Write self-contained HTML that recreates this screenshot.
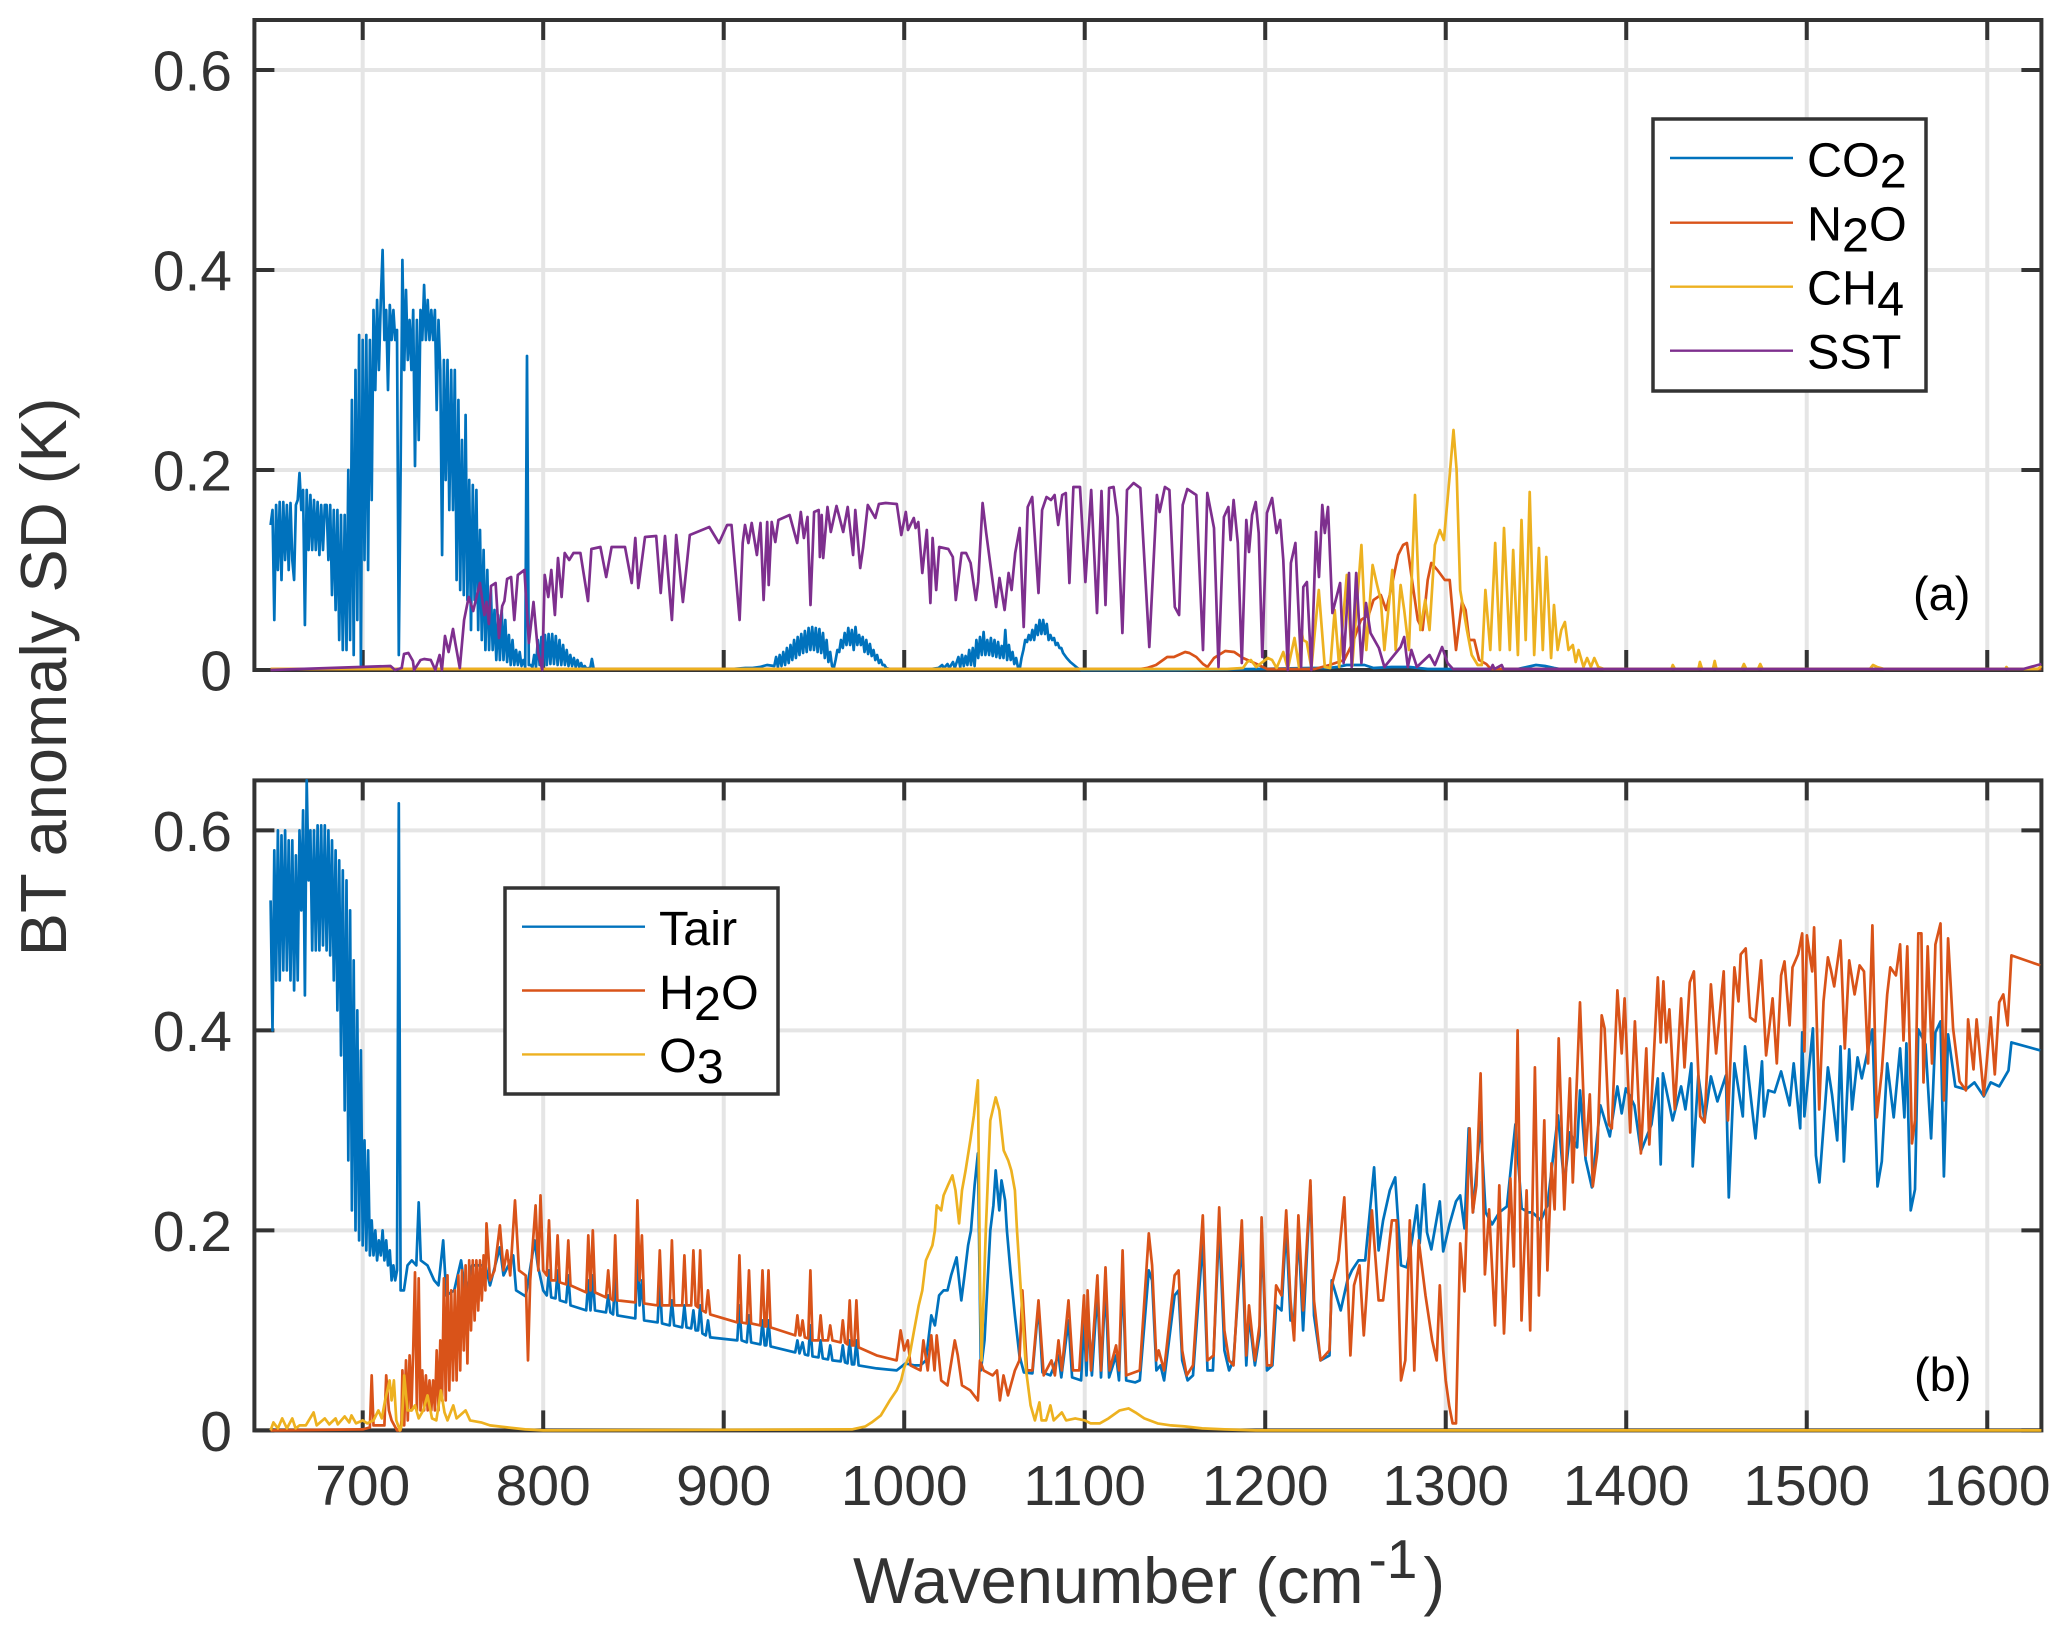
<!DOCTYPE html>
<html lang="en">
<head>
<meta charset="utf-8">
<title>BT anomaly SD spectra</title>
<style>
html,body{margin:0;padding:0;background:#fff}
svg{display:block}
text{font-family:"Liberation Sans",sans-serif}
</style>
</head>
<body>
<svg id="chart" xmlns="http://www.w3.org/2000/svg" width="2067" height="1635" viewBox="0 0 2067 1635">
<rect x="0" y="0" width="2067" height="1635" fill="#fff"/>
<g id="panels"></g>
<text transform="translate(66,677) rotate(-90)" text-anchor="middle" font-size="65" fill="#333">BT anomaly SD (K)</text>
<text x="853" y="1603" font-size="65" fill="#333">Wavenumber (cm<tspan font-size="55" dx="5" dy="-25">-1</tspan><tspan dx="6" dy="25">)</tspan></text>
<text x="1913" y="610" font-size="47" fill="#000">(a)</text>
<text x="1914" y="1391" font-size="47" fill="#000">(b)</text>
<g font-size="48.5" fill="#000">
<rect x="1653" y="119" width="273" height="272" fill="#fff" stroke="#333" stroke-width="3.5"/>
<line x1="1670" x2="1793" y1="158" y2="158" stroke="#0072bd" stroke-width="2.4"/>
<line x1="1670" x2="1793" y1="222.7" y2="222.7" stroke="#d95319" stroke-width="2.4"/>
<line x1="1670" x2="1793" y1="286.7" y2="286.7" stroke="#edb120" stroke-width="2.4"/>
<line x1="1670" x2="1793" y1="350.7" y2="350.7" stroke="#7e2f8e" stroke-width="2.4"/>
<text x="1807" y="176.7">CO<tspan dy="11">2</tspan></text>
<text x="1807" y="240.7">N<tspan dy="11">2</tspan><tspan dy="-11">O</tspan></text>
<text x="1807" y="304.5">CH<tspan dy="11">4</tspan></text>
<text x="1807" y="368.3">SST</text>
</g>
<g font-size="48.5" fill="#000">
<rect x="505" y="888" width="273" height="206" fill="#fff" stroke="#333" stroke-width="3.5"/>
<line x1="522" x2="645" y1="926.7" y2="926.7" stroke="#0072bd" stroke-width="2.4"/>
<line x1="522" x2="645" y1="990.5" y2="990.5" stroke="#d95319" stroke-width="2.4"/>
<line x1="522" x2="645" y1="1054.4" y2="1054.4" stroke="#edb120" stroke-width="2.4"/>
<text x="659" y="945">Tair</text>
<text x="659" y="1008.8">H<tspan dy="11">2</tspan><tspan dy="-11">O</tspan></text>
<text x="659" y="1072">O<tspan dy="11">3</tspan></text>
</g>
</svg>
<script>
const xTickValues=[700,800,900,1000,1100,1200,1300,1400,1500,1600];
const xTickLabels=["700","800","900","1000","1100","1200","1300","1400","1500","1600"];
const yTickValues=[0,0.2,0.4,0.6];
const yTickLabels=["0","0.2","0.4","0.6"];

// Panel (a): CO2 — densely sampled band (one value per cm-1, starting at co2BandStart) plus a sparse tail
const co2BandStart=649;
const co2BandSd=[
.145,.16,.05,.165,.1,.168,.09,.168,.11,.165,
.1,.167,.11,.09,.165,.17,.197,.16,.18,.045,
.18,.12,.175,.12,.17,.12,.168,.115,.165,.12,
.165,.165,.11,.165,.075,.16,.06,.16,.03,.155,
.02,.155,.02,.2,.03,.27,.015,.3,.05,.335,
.005,.33,.11,.335,.1,.33,.17,.36,.28,.37,
.3,.37,.42,.33,.36,.28,.365,.33,.36,.33,
.34,.015,.2,.41,.3,.38,.31,.35,.3,.36,
.204,.35,.23,.36,.33,.385,.33,.37,.33,.36,
.33,.36,.26,.35,.3,.115,.31,.19,.31,.16,
.3,.16,.3,.09,.27,.08,.23,.075,.255,.07,
.19,.04,.185,.07,.18,.04,.14,.03,.12,.02,
.1,.02,.08,.02,.06,.01,.055,.01,.06,.01,
.05,.008,.035,.005,.03,.005,.02,.005,.018,.004,
.01,.003,.314,.005,.005,.003,.015,.003,.03,.005,
.033,.004,.035,.005,.036,.006,.036,.006,.034,.005,
.03,.005,.025,.005,.02,.004,.015,.004,.012,.003,
.01,.003,.007,.002,.004,.001,.002,.001,.011,.001
];
const co2TailWn=[
830,905,912,916,920,924,928,929,930,931,
932,933,934,935,936,937,938,939,940,941,
942,943,944,945,946,947,948,949,950,951,
952,953,954,955,956,957,958,959,960,961,
962,963,964,965,966,967,968,969,970,971,
972,973,974,975,976,977,978,979,980,981,
982,983,984,985,986,987,988,989,990,992,
1015,1019,1021,1022,1024,1025,1027,1028,1030,1031,
1032,1033,1034,1035,1036,1037,1038,1039,1040,1041,
1042,1043,1044,1045,1046,1047,1048,1049,1050,1051,
1052,1053,1054,1055,1056,1057,1058,1059,1060,1061,
1062,1063,1064,1065,1066,1067,1068,1069,1070,1071,
1072,1073,1074,1075,1076,1077,1078,1079,1080,1081,
1082,1083,1084,1085,1086,1087,1088,1090,1092,1094,
1096,1098,1150,1195,1225,1235,1240,1245,1250,1255,
1260,1270,1280,1290,1340,1345,1350,1355,1360,1363,
1380,1630
];
const co2TailSd=[
.001,.001,.002,.002,.003,.005,.004,.013,.003,.015,
.004,.018,.005,.022,.007,.025,.01,.03,.012,.033,
.015,.036,.017,.039,.018,.042,.02,.043,.02,.042,
.018,.041,.017,.037,.012,.03,.008,.018,.004,.002,
.01,.02,.018,.03,.022,.037,.025,.042,.025,.04,
.02,.043,.025,.035,.025,.033,.018,.03,.016,.026,
.014,.02,.01,.015,.007,.01,.005,.005,.002,.001,
.001,.002,.005,.002,.006,.002,.008,.002,.013,.003,
.015,.004,.014,.005,.02,.005,.022,.004,.03,.012,
.033,.015,.038,.015,.03,.015,.032,.014,.03,.013,
.028,.012,.024,.012,.04,.01,.025,.01,.018,.006,
.012,.003,.001,.012,.02,.03,.028,.035,.03,.04,
.03,.045,.035,.05,.036,.05,.036,.046,.03,.035,
.03,.032,.025,.027,.022,.022,.017,.012,.008,.005,
.002,0,0,.001,.002,.002,.003,.005,.005,.005,
.002,.003,.003,.001,.001,.003,.005,.004,.002,.001,
.001,.001
];

// Panel (a): N2O
const n2oWn=[
649,1130.8,1134.5,1139.5,1145.7,1149.4,1155.6,1158,1161.8,1165.5,
1168,1171.6,1177.8,1182.8,1187.7,1195.2,1201,1227.4,1235.6,1243.8,
1246.5,1249,1253,1257.3,1260,1264,1267,1269.6,1273.6,1276.4,
1278.5,1281.3,1284.5,1287.2,1290,1292,1295.4,1299.5,1302.2,1305.7,
1309,1311,1313,1315.8,1318.5,1322.5,1325,1630
];
const n2oSd=[
.001,.001,.002,.005,.013,.013,.018,.017,.013,.006,
.003,.012,.019,.018,.012,.006,.001,.001,.005,.01,
.02,.03,.05,.055,.07,.075,.06,.08,.115,.125,
.127,.09,.05,.04,.09,.107,.1,.09,.09,.02,
.068,.06,.03,.03,.01,.006,.001,.001
];

// Panel (a): CH4
const ch4Wn=[
649,1179,1187.7,1190,1192,1195,1201.4,1203.8,1206.3,1210,
1212.5,1216.2,1218.7,1220,1221,1223,1225.6,1229.7,1233,1236,
1238.5,1241,1245.2,1248.2,1253.3,1256,1259.5,1262,1264,1266,
1270.4,1272.3,1275,1277,1279.6,1283,1285.9,1288.6,1291,1294,
1296.7,1299,1301,1302,1304.3,1306,1308,1311.7,1314.4,1317.7,
1320,1322,1324.7,1327.4,1330,1332.3,1335.5,1337.4,1340,1342,
1344.3,1346.5,1349,1351.6,1353.8,1355.7,1358.4,1360,1362,1364,
1366,1368,1370.4,1372,1373.6,1376.3,1378.3,1380.4,1382.3,1384.5,
1387.8,1425,1425.8,1427,1440,1440.8,1442,1448,1449,1450,
1464,1465.2,1466.5,1473,1474.2,1475.5,1535,1536.7,1539,1541,
1543,1610,1610.6,1611.5,1628,1630
];
const ch4Sd=[
.001,.001,.002,.008,.01,.003,.012,.01,.002,.018,
.001,.032,.003,.04,.03,.028,.002,.08,.003,.002,
.06,.003,.095,.004,.125,.02,.105,.085,.07,.02,
.1,.02,.085,.06,.02,.175,.04,.07,.04,.125,
.14,.13,.17,.19,.24,.2,.08,.04,.015,.005,
.005,.08,.02,.127,.02,.142,.02,.12,.015,.15,
.03,.178,.015,.122,.02,.113,.012,.065,.02,.04,
.048,.02,.025,.008,.02,.003,.012,.003,.012,.003,
.001,.001,.005,.001,.001,.008,.001,.001,.009,.001,
.001,.006,.001,.001,.006,.001,.001,.005,.003,.002,
.001,.001,.003,.001,.001,.004
];

// Panel (a): SST
const sstWn=[
649,715.4,717.9,721.6,722.9,725.3,727.8,728.5,732,734,
737.7,740.2,742.6,743.9,745.6,747.6,750,751.3,753.8,756.2,
758.7,761.2,764.9,767.4,768.6,769.9,771.1,773.6,775.5,777.3,
778.5,780,782.2,784,785.9,789.6,792.1,794.6,797.1,799.5,
800.8,802.8,804.5,806.5,808.2,810.2,811.9,814.4,816.8,820.6,
824.8,826.7,831.7,834.9,837.9,841.6,845.3,849,851,852.7,
856.4,862.6,865.1,867.5,871.3,873.7,877.4,881.2,892,897.4,
901.9,904.3,906.3,908.8,910.5,911.8,913.7,915.5,918.4,920.4,
922.1,924.1,924.9,926.6,928.6,930.3,934,936.5,940.7,942.7,
944.4,946.4,948.1,950.1,952.6,953.3,954.3,955.1,957.5,959.3,
962.5,966.2,968.7,971.7,972.9,975.6,977.3,979.8,984,986,
989.7,995.9,998.4,1000.9,1002.1,1005.3,1006.3,1007.8,1010,1012.5,
1014.5,1015.7,1017.7,1019.4,1024.4,1026.9,1028.6,1031.8,1034.3,1036.8,
1039.7,1041,1043.4,1045.4,1047.9,1050.9,1052.8,1055.6,1057.8,1059.5,
1061.5,1064,1066.2,1068.4,1070.9,1074.4,1076.4,1078.8,1081.3,1083.3,
1085.3,1087.5,1089.5,1091.5,1093.7,1097.4,1100.4,1103.6,1106.8,1109.3,
1111.5,1113.5,1116,1118.2,1120.9,1123.4,1127.1,1130.8,1135.8,1140,
1141.5,1144.4,1146.9,1149.9,1152.3,1154.3,1156.8,1161.8,1165.5,1167.9,
1171.6,1174.1,1177.1,1179.6,1180.8,1182.5,1184.8,1187,1189.5,1191,
1192.7,1194.7,1196.4,1198.4,1200.9,1203.8,1206.3,1208.3,1210,1212.5,
1214.2,1216.7,1219.9,1221.1,1223.1,1225.6,1228.1,1229.8,1231.6,1233,
1234.8,1237.2,1241.5,1243.4,1246.4,1247.9,1250.4,1253.3,1255.8,1258.3,
1263,1266,1275,1277,1279,1281,1284,1291,1294,1298,
1301,1304,1325,1326,1327,1331,1332,1620,1630
];
const sstSd=[
0,.004,0,.002,.016,.017,.009,0,.01,.011,
.01,0,.015,0,.034,.018,.041,.027,.002,.05,
.073,.059,.087,.055,.068,.046,.084,.087,.032,.064,
.069,.091,.093,.05,.095,.1,.027,.068,.018,0,
.095,.073,.1,.055,.112,.073,.117,.11,.117,.117,
.069,.121,.123,.093,.123,.123,.123,.087,.132,.082,
.133,.134,.077,.134,.05,.135,.068,.135,.143,.127,
.145,.145,.103,.05,.127,.145,.127,.147,.115,.147,
.07,.148,.085,.148,.128,.15,.153,.155,.127,.158,
.132,.153,.065,.158,.16,.113,.155,.112,.163,.138,
.164,.138,.163,.115,.16,.102,.123,.165,.152,.166,
.167,.166,.135,.158,.14,.152,.142,.148,.097,.14,
.067,.132,.08,.123,.121,.113,.07,.117,.117,.107,
.07,.088,.167,.137,.103,.063,.092,.06,.097,.08,
.117,.142,.043,.163,.173,.077,.16,.173,.17,.175,
.145,.175,.177,.087,.183,.183,.088,.18,.057,.179,
.065,.182,.183,.153,.037,.18,.187,.182,.023,.175,
.158,.183,.18,.063,.055,.165,.181,.175,.02,.177,
.142,.003,.153,.163,.13,.17,.127,.007,.15,.118,
.155,.168,.137,.013,.157,.172,.137,.15,.11,0,
.107,.127,.003,.083,.088,0,.138,.093,.165,.137,
.163,.057,.087,.007,.097,.003,.097,.007,.067,.037,
.022,.003,.023,.033,.003,.02,.003,.015,.005,.023,
.007,.001,.001,.005,.001,.005,.001,.001,.006
];

// Panel (b): Tair — dense band plus sparse remainder
const tairBandStart=649;
const tairBandSd=[
.53,.4,.58,.45,.6,.45,.595,.46,.6,.46,
.59,.45,.59,.44,.575,.45,.6,.52,.62,.435,
.65,.55,.6,.48,.6,.48,.605,.48,.605,.485,
.605,.48,.6,.475,.59,.45,.58,.42,.57,.375,
.56,.32,.55,.27,.52,.22,.47,.2,.42,.19,
.38,.185,.29,.18,.28,.175,.21,.175,.2,.17,
.19,.175,.2,.17,.19,.165,.18,.15,.165,.15,
.16,.627,.14
];
const tairWn=[
722.8,724.8,727.2,729.7,731,732.2,735.9,739.6,742,744.6,
746.3,750.7,754.5,757,760.6,768,770.5,776,778,783.4,
785,790.3,795.3,797,
800,802,803.2,804.4,806.8,808,809.2,812.7,813.9,815.1,
823.8,825,826.2,827.5,828.7,834.8,836,837.2,838.7,839.9,
841.1,851,852.2,853.4,854.7,855.9,863.4,864.6,865.8,870.1,
871.3,872.5,877,878.2,879.4,882,883.2,884.4,885.8,887,
888.2,890.1,891.3,892.5,907.5,908.7,909.9,912.8,914,915.2,
920.3,921.5,922.7,923.6,924.8,926,939.6,940.8,942,943.7,
944.9,946.8,948,949.2,952.5,953.7,954.9,957.8,959,960.2,
964.8,966,967.2,968.6,969.8,971,972.3,973.5,974.7,984.7,
995.8,1000.7,
1005.7,1009,1012,1015,1017,1019.3,
1021.8,1024,1026,1029,1031.6,1033.4,1035.4,1037,1039,1040.8,
1042.5,1044.5,1046.5,1047.7,1049.4,1050.7,1052.7,1053.9,1055.9,1056.9,
1058.8,1061.3,1063.8,1066.3,1071,1074.4,1076.6,1081,1085.5,1087,
1091,1093,1098,1099.6,1101,1102,1104,1107,1109,1111.5,
1113.5,1117.4,1119,1121,1123,1128,1130.5,1135.5,1137.3,1139.7,
1142,1144,1149.8,1152,1154,1157,1160,1165.4,1168,1171,
1174.5,1177.4,1180,1182.4,1187,1189.5,1191,1194.3,1196.8,1198,
1201,1204,1206,1209,1211.6,1214,1216,1218.4,1221,1225,
1227,1230.6,1235.6,1236.8,1241.8,1245.5,1248,1251.7,1255.4,1260.3,
1262.8,1265.3,1269,1272,1275.2,1278.4,1281.3,1284,1285.6,1288,
1289.6,1292,1296.7,1298.6,1302.1,1305.7,1308,1310.4,1312.7,1315.1,
1319.3,1322.1,1325.7,1329.7,1333.9,1338.6,1342.1,1345.7,1348,1352.7,
1356.3,1362.2,1365.7,1368.8,1372.8,1374.4,1377.5,1381,1385.7,1390.9,
1395.1,1397.5,1399.8,1404.5,1408.1,1414,1417.5,1419.1,1420.3,1425.7,
1430.4,1432.8,1436.1,1436.8,1439.9,1443.4,1446.9,1450.5,1455.2,1456.8,
1459.9,1464.6,1465.8,1471.6,1475.2,1476.4,1478.7,1482.2,1485.8,1490.5,
1492.8,1496.4,1497.5,1498.7,1503.4,1505.1,1507,1511.7,1514,1516.9,
1518.7,1520.6,1523.5,1525.1,1528.2,1530.5,1536.4,1539.2,1541.6,1544.6,
1548.2,1551.7,1554.1,1555.2,1557.6,1560,1561.8,1565.8,1568.9,1571.3,
1574.1,1576,1578.3,1582.3,1588.2,1592.9,1598.1,1601.9,1606.6,1611.8,
1613.4,1629.4
];
const tairSd=[
.14,.165,.17,.165,.228,.17,.165,.15,.145,.19,
.135,.14,.17,.135,.165,.165,.145,.183,.155,.175,
.14,.134,.19,.165,
.14,.135,.16,.133,.132,.16,.13,.128,.155,.125,
.12,.15,.12,.155,.12,.118,.135,.118,.116,.155,
.115,.112,.18,.125,.15,.11,.108,.15,.107,.105,
.13,.105,.103,.125,.103,.102,.12,.1,.1,.125,
.097,.095,.11,.093,.09,.125,.09,.088,.115,.088,
.086,.11,.085,.085,.11,.084,.078,.09,.077,.088,
.076,.075,.105,.074,.073,.09,.072,.071,.085,.07,
.069,.085,.068,.067,.09,.066,.066,.09,.065,.062,
.06,.067,
.065,.065,.07,.115,.105,.135,
.14,.14,.155,.173,.13,.155,.185,.2,.245,.277,
.06,.09,.16,.2,.225,.26,.22,.25,.23,.2,
.16,.115,.075,.058,.057,.125,.058,.055,.075,.053,
.11,.053,.05,.11,.055,.115,.055,.14,.053,.145,
.053,.075,.05,.155,.05,.048,.05,.16,.15,.06,
.065,.05,.135,.14,.07,.05,.055,.19,.06,.06,
.205,.08,.06,.07,.19,.065,.115,.065,.095,.2,
.06,.065,.125,.12,.205,.11,.11,.2,.1,.245,
.115,.07,.075,.15,.12,.15,.16,.17,.17,.263,
.18,.21,.24,.253,.165,.163,.19,.225,.187,.246,
.198,.181,.229,.179,.206,.229,.235,.202,.302,.218,
.308,.218,.206,.218,.224,.306,.222,.218,.218,.21,
.225,.315,.245,.298,.283,.34,.271,.243,.325,.294,
.344,.317,.342,.325,.279,.306,.352,.266,.357,.31,
.344,.321,.367,.264,.355,.31,.354,.329,.355,.233,
.367,.314,.384,.292,.369,.314,.34,.338,.359,.325,
.367,.302,.398,.314,.402,.275,.248,.363,.336,.29,
.384,.269,.381,.321,.373,.352,.401,.244,.269,.367,
.313,.382,.313,.387,.22,.241,.401,.386,.292,.398,
.409,.254,.396,.344,.341,.348,.334,.348,.344,.36,
.388,.38
];

// Panel (b): H2O — dense band plus sparse remainder
const h2oBandStart=722;
const h2oBandSd=[
.06,.005,.07,.01,.075,.02,.08,.158,.02,.152,
.02,.06,.02,.055,.02,.05,.02,.05,.02,.08,
.02,.09,.03,.152,.03,.155,.04,.14,.05,.14,
.05,.155,.06,.16,.08,.165,.067,.17,.1,.17,
.11,.17,.12,.17,.13,.175,.14
];
const h2oWn=[
649,700,704,705,706,712,713,714.5,716,719,
721,721.5,
768.6,770.5,773,776,778,780,781.7,784.4,786.6,790.3,
791.6,792.8,795.8,797.3,798.5,
800,802,803.2,804.4,806.8,808,809.2,812.7,813.9,815.1,
823.8,825,826.2,827.5,828.7,834.8,836,837.2,838.7,839.9,
841.1,851,852.2,853.4,854.7,855.9,863.4,864.6,865.8,870.1,
871.3,872.5,877,878.2,879.4,882,883.2,884.4,885.8,887,
888.2,890.1,891.3,892.5,907.5,908.7,909.9,912.8,914,915.2,
920.3,921.5,922.7,923.6,924.8,926,939.6,940.8,942,942.5,
943.7,944.9,946.8,948,949.2,952.5,953.7,954.9,957.8,959,
960.2,964.8,966,967.2,968.6,969.8,971,972.3,973.5,974.7,
984.7,995.8,998,1000,1002,1003.5,
1009,1010.6,1013,1015,1016.8,1018,1020.5,1024,1028,1029.7,
1032,1036.6,1040.8,1042,1044,1049,1051.4,1053,1055,1057.5,
1061.3,1063.8,1065.5,1068,1071,1074.4,1077.3,1081.6,1083.5,1085.5,
1087.3,1091,1093.5,1097,1099.6,1101,1101.6,1103.5,1107,1109,
1111.5,1113.8,1117.4,1119,1121,1123,1130.5,1135.5,1137.3,1139.7,
1141,1144,1149.8,1152,1154,1156.5,1160,1165.4,1168,1171.4,
1174.5,1177.4,1180,1182.4,1187,1189.5,1191,1194.3,1196.8,1198,
1201,1203.5,1206,1209,1211.6,1214,1216,1218.4,1221,1225,
1227,1230.6,1235.6,1236.8,1240.5,1243.8,1247.2,1249.2,1252.2,1254.6,
1256.1,1259.1,1262.8,1265.3,1266.5,1270.2,1272.7,1275.2,1277.6,1280.1,
1282.6,1285,1288.8,1292.5,1295,1296.7,1298.6,1300,1302,1303.8,
1305.7,1308,1310.4,1313.2,1315,1317,1319.3,1321.7,1324,1327.3,
1329.7,1332.3,1335.8,1337.7,1339.8,1342,1344.8,1346.8,1349.4,1351.6,
1354.6,1356.3,1358.6,1360.3,1362.6,1365.7,1368.8,1370.4,1374.4,1377.5,
1379.8,1381.5,1384,1386.4,1388,1390.4,1392,1395.1,1397.5,1399.1,
1402.2,1404.8,1408.1,1411.1,1412.8,1417.5,1419.1,1420.6,1422.2,1423.9,
1426.9,1430.4,1432.3,1435.2,1437.5,1441,1443.4,1446.9,1449.8,1454,
1456.3,1459.9,1462.2,1463.4,1466.2,1468.6,1471.6,1474.7,1477.5,1481.1,
1483.4,1485.8,1487.7,1490.5,1492.1,1495.2,1497.5,1498.7,1500.1,1503,
1504.1,1506.9,1509.3,1511.7,1513.3,1515.2,1518.7,1521.1,1523.5,1526.5,
1529.3,1531.7,1534,1536.4,1538.8,1541.6,1544.6,1546.3,1549.4,1551.7,
1553.6,1555.7,1558.3,1560,1561.8,1563.5,1564.7,1567,1569.4,1571.3,
1574.1,1576,1578.3,1581.1,1584.7,1588.2,1589.4,1592.4,1594.1,1598.1,
1601.9,1604.2,1606.6,1608.9,1611.3,1613.4,1629.4
];
const h2oSd=[
0,.001,.003,.055,.005,.005,.055,.02,.01,0,
0,.01,
.207,.15,.16,.205,.16,.18,.155,.23,.16,.155,
.07,.15,.225,.16,.235,
.16,.155,.21,.15,.15,.195,.148,.146,.19,.145,
.138,.195,.14,.2,.138,.133,.16,.132,.13,.195,
.13,.128,.23,.15,.195,.127,.125,.18,.125,.125,
.19,.125,.125,.175,.125,.125,.18,.125,.123,.18,
.12,.118,.14,.116,.108,.175,.108,.107,.16,.107,
.105,.16,.104,.104,.16,.103,.095,.115,.095,.095,
.11,.093,.092,.16,.09,.09,.115,.09,.09,.105,
.09,.088,.11,.088,.086,.13,.085,.085,.13,.083,
.075,.07,.1,.08,.09,.065,
.06,.09,.06,.095,.06,.095,.05,.045,.09,.075,
.045,.04,.03,.07,.06,.055,.06,.03,.055,.035,
.06,.07,.14,.06,.06,.13,.055,.07,.055,.09,
.06,.13,.06,.06,.135,.07,.14,.06,.155,.06,
.163,.06,.085,.06,.18,.055,.06,.197,.165,.07,
.08,.06,.155,.16,.08,.055,.065,.215,.07,.075,
.223,.1,.07,.065,.21,.075,.125,.07,.105,.213,
.065,.065,.145,.135,.22,.13,.09,.215,.12,.25,
.13,.07,.08,.145,.17,.233,.075,.145,.165,.095,
.135,.22,.13,.13,.15,.21,.21,.05,.07,.21,
.06,.19,.135,.09,.07,.145,.08,.05,.024,.007,
.007,.187,.139,.302,.218,.245,.357,.156,.221,.105,
.245,.097,.252,.164,.4,.11,.24,.1,.363,.135,
.31,.16,.267,.221,.392,.221,.352,.248,.428,.275,
.336,.244,.279,.415,.402,.306,.302,.44,.377,.432,
.298,.409,.277,.382,.286,.453,.388,.449,.388,.421,
.321,.432,.363,.448,.459,.314,.308,.446,.377,.459,
.31,.463,.429,.476,.482,.413,.409,.47,.375,.432,
.367,.455,.469,.405,.463,.476,.497,.379,.495,.459,
.503,.321,.429,.473,.461,.444,.49,.382,.47,.436,
.465,.459,.367,.505,.313,.359,.436,.463,.455,.486,
.39,.484,.287,.31,.497,.497,.348,.484,.367,.486,
.507,.33,.492,.402,.349,.34,.411,.361,.411,.335,
.413,.356,.428,.436,.405,.475,.465
];

// Panel (b): O3
const o3Wn=[
649,650.5,653,655.4,658,661,662.8,665,668.5,672.8,
674.5,679,681.5,685,686.2,690,692.5,693.8,696.3,700,
702.5,706,708.7,710.6,712.4,714.9,716,717.3,718.6,720.6,
721.6,723,724.8,727.2,729,731,733.5,735.9,738.4,740.8,
743.3,745.3,747,750.2,752,757,759.5,765.6,770.5,780,
790,800,971,978.5,982,987,992,995.8,998.3,1000,
1003,1005.5,1008,1010,1012,1015.6,1017,1018,1020.5,1021.8,
1024.2,1026.7,1028.4,1030.4,1032,1034,1036.6,1038.6,1040.8,1042,
1042.8,1045.2,1047.7,1050.7,1052.7,1055.1,1057.6,1059.3,1061.3,1062.5,
1065,1067.5,1070,1072.4,1074.9,1076.1,1078.6,1081,1082.8,1087.3,
1089.7,1094.7,1100.1,1103.3,1108.3,1113.2,1119.4,1124.3,1128.1,1133,
1140.4,1147.8,1155.3,1165.1,1177.5,1194.8,1630
];
const o3Sd=[
0,.008,.002,.012,.002,.012,.002,.005,.005,.018,
.005,.012,.006,.012,.006,.014,.008,.015,.007,.01,
.007,.01,.02,.012,.03,.05,.03,.05,.01,0,
.005,.055,.02,.02,.025,.012,.02,.035,.012,.01,
.04,.018,.01,.025,.012,.02,.01,.008,.005,.003,
.001,0,.001,.004,.008,.015,.03,.04,.05,.063,
.075,.1,.125,.14,.17,.185,.2,.225,.22,.235,
.245,.255,.24,.207,.24,.26,.29,.315,.35,.15,
.07,.2,.31,.333,.32,.28,.27,.26,.24,.2,
.13,.06,.025,.01,.028,.01,.01,.025,.01,.018,
.01,.012,.01,.007,.007,.012,.02,.022,.018,.012,
.007,.005,.004,.002,.001,0,0
];

const NS='http://www.w3.org/2000/svg';
const plotLeft=254.4, plotRight=2041.4, wnMin=640, wnMax=1630, yMax=0.65, pxPerK=1000;
const colors={blue:'#0072bd',orange:'#d95319',yellow:'#edb120',purple:'#7e2f8e'};
const seriesWidth=2.7;
function xScale(w){return plotLeft+(w-wnMin)*(plotRight-plotLeft)/(wnMax-wnMin);}
function yScale(bottom,v){return bottom-v*pxPerK;}
function svgEl(tag,attrs,parent){
  const el=document.createElementNS(NS,tag);
  for(const k in attrs){el.setAttribute(k,attrs[k]);}
  parent.appendChild(el);
  return el;
}
function mergePoints(bandStart,bandSd,wn,sd){
  const pts=[];
  bandSd.forEach(function(v,i){pts.push([bandStart+i,v]);});
  wn.forEach(function(w,i){pts.push([w,sd[i]]);});
  pts.sort(function(a,b){return a[0]-b[0];});
  return pts;
}
function drawSeries(group,bottom,pts,color){
  const d=pts.map(function(p){return xScale(p[0]).toFixed(1)+','+yScale(bottom,p[1]).toFixed(1);}).join(' ');
  return svgEl('polyline',{points:d,fill:'none',stroke:color,'stroke-width':seriesWidth,'stroke-linejoin':'round'},group);
}
function drawAxes(group,bottom,showXLabels){
  const top=yScale(bottom,yMax);
  xTickValues.forEach(function(t,i){
    const gx=svgEl('line',{x1:xScale(t),x2:xScale(t),y1:top,y2:bottom,stroke:'#e5e5e5','stroke-width':4},group);
    
    
  });
  yTickValues.forEach(function(t,i){
    const gy=svgEl('line',{x1:plotLeft,x2:plotRight,y1:yScale(bottom,t),y2:yScale(bottom,t),stroke:'#e5e5e5','stroke-width':4},group);
    
    
  });
  xTickValues.forEach(function(t,i){
    const x=xScale(t);
    const tb=svgEl('line',{x1:x,x2:x,y1:bottom,y2:bottom-20,stroke:'#333','stroke-width':4},group);
    
    
    const tt=svgEl('line',{x1:x,x2:x,y1:top,y2:top+20,stroke:'#333','stroke-width':4},group);
    
    
    if(showXLabels){
      const lb=svgEl('text',{x:x,y:1505,'text-anchor':'middle','font-size':57,fill:'#333'},group);
      lb.textContent=xTickLabels[i];
      
      
    }
  });
  yTickValues.forEach(function(t,i){
    const y=yScale(bottom,t);
    const tl=svgEl('line',{x1:plotLeft,x2:plotLeft+20,y1:y,y2:y,stroke:'#333','stroke-width':4},group);
    
    
    const tr=svgEl('line',{x1:plotRight,x2:plotRight-20,y1:y,y2:y,stroke:'#333','stroke-width':4},group);
    
    
    const lb=svgEl('text',{x:232,y:y+20.5,'text-anchor':'end','font-size':57,fill:'#333'},group);
    lb.textContent=yTickLabels[i];
    
    
  });
  const box=svgEl('rect',{x:plotLeft,y:top,width:plotRight-plotLeft,height:bottom-top,fill:'none',stroke:'#333','stroke-width':4},group);
  
  
}
const root=document.getElementById('panels');

const panelA=svgEl('g',{},root);


drawAxes(panelA,670,false);
const lineCo2=drawSeries(panelA,670,mergePoints(co2BandStart,co2BandSd,co2TailWn,co2TailSd),colors.blue);


const lineN2o=drawSeries(panelA,670,mergePoints(0,[],n2oWn,n2oSd),colors.orange);


const lineCh4=drawSeries(panelA,670,mergePoints(0,[],ch4Wn,ch4Sd),colors.yellow);


const lineSst=drawSeries(panelA,670,mergePoints(0,[],sstWn,sstSd),colors.purple);



const panelB=svgEl('g',{},root);


drawAxes(panelB,1430.4,true);
const lineTair=drawSeries(panelB,1430.4,mergePoints(tairBandStart,tairBandSd,tairWn,tairSd),colors.blue);


const lineH2o=drawSeries(panelB,1430.4,mergePoints(h2oBandStart,h2oBandSd,h2oWn,h2oSd),colors.orange);


const lineO3=drawSeries(panelB,1430.4,mergePoints(0,[],o3Wn,o3Sd),colors.yellow);


</script>
</body>
</html>
